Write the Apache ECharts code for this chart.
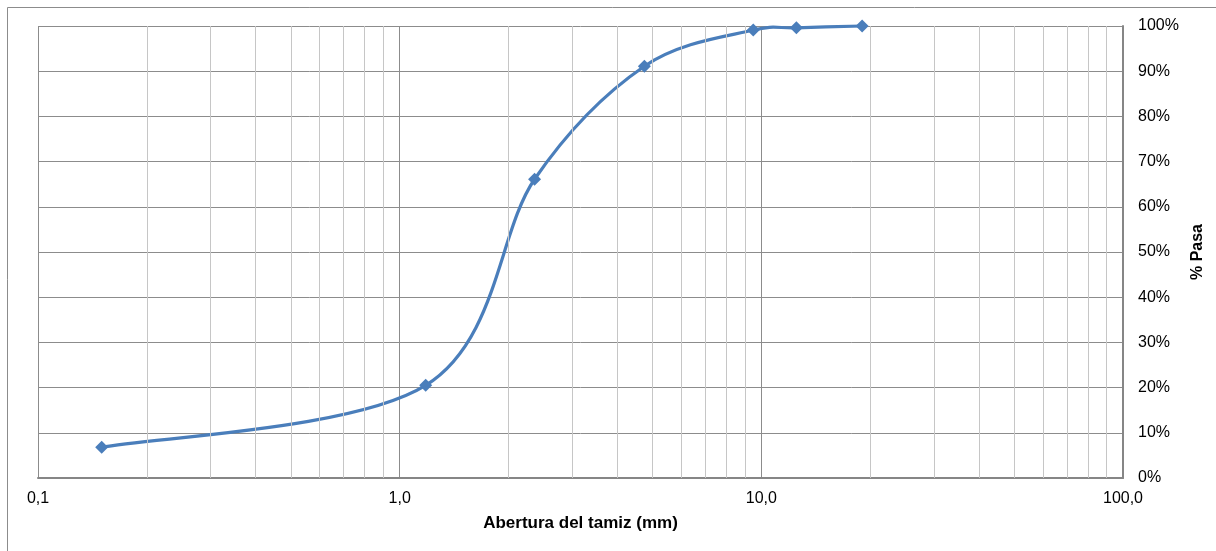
<!DOCTYPE html>
<html>
<head>
<meta charset="utf-8">
<script src="https://cdn.jsdelivr.net/npm/echarts@6/dist/echarts.min.js"></script>
<style>
html,body{margin:0;padding:0;background:#fff;}
#chart{width:1216px;height:551px;}
</style>
</head>
<body>
<div id="chart"></div>
<script>
// Sieve opening (mm) and % passing
const aperturas = [0.15, 1.18, 2.36, 4.75, 9.5, 12.5, 19];
const pasa = [6.8, 20.5, 66.1, 91.1, 99.1, 99.6, 100];
const minorGrid = [0.2,0.3,0.4,0.5,0.6,0.7,0.8,0.9, 2,3,4,5,6,7,8,9, 20,30,40,50,60,70,80,90];
const xTitle = 'Abertura del tamiz (mm)';
const yTitle = '% Pasa';

const chart = echarts.init(document.getElementById('chart'));
const font = 'Liberation Sans, Arial, sans-serif';
const blue = '#4a7ebb';

// Excel-like smoothed segment (Catmull-Rom style, tension 1/6) between point i and i+1
function renderSegment(params, api) {
  const i = params.dataIndex;
  const n = aperturas.length;
  const P = j => api.coord([aperturas[Math.max(0, Math.min(n - 1, j))], pasa[Math.max(0, Math.min(n - 1, j))]]);
  const p0 = P(i - 1), p1 = P(i), p2 = P(i + 1), p3 = P(i + 2);
  const d = (a, b) => Math.hypot(b[0] - a[0], b[1] - a[1]);
  const seg = d(p1, p2);
  let f1 = 1 / 6, f2 = 1 / 6;
  const d02 = d(p0, p2), d13 = d(p1, p3);
  if (d02 * f1 > seg / 2) f1 = seg / 2 / d02;
  if (d13 * f2 > seg / 2) f2 = seg / 2 / d13;
  const c1 = [p1[0] + (p2[0] - p0[0]) * f1, p1[1] + (p2[1] - p0[1]) * f1];
  const c2 = [p2[0] - (p3[0] - p1[0]) * f2, p2[1] - (p3[1] - p1[1]) * f2];
  return {
    type: 'bezierCurve',
    shape: {x1: p1[0], y1: p1[1], x2: p2[0], y2: p2[1], cpx1: c1[0], cpy1: c1[1], cpx2: c2[0], cpy2: c2[1]},
    style: {stroke: blue, lineWidth: 3.2, fill: null, lineCap: 'round'}
  };
}

chart.setOption({
  animation: false,
  backgroundColor: '#fff',
  graphic: [{
    type: 'rect', silent: true, z: -10,
    shape: {x: 7.5, y: 7.5, width: 1230, height: 560},
    style: {fill: 'none', stroke: '#8c8c8c', lineWidth: 1}
  }],
  grid: {left: 38, top: 26, right: 93, bottom: 73},
  xAxis: {
    type: 'log', logBase: 10, min: 0.1, max: 100,
    name: xTitle, nameLocation: 'middle', nameGap: 37,
    nameTextStyle: {fontFamily: font, fontSize: 17, fontWeight: 'bold', color: '#000'},
    axisLine: {show: true, lineStyle: {color: '#868686', width: 2}},
    axisTick: {show: false},
    axisLabel: {fontFamily: font, fontSize: 16, color: '#000', margin: 13,
      formatter: v => v.toFixed(1).replace('.', ',')},
    splitLine: {show: true, lineStyle: {color: '#8c8c8c', width: 1}}
  },
  yAxis: {
    type: 'value', position: 'right', min: 0, max: 100, interval: 10,
    name: yTitle, nameLocation: 'middle', nameGap: 66, nameRotate: 90,
    nameTextStyle: {fontFamily: font, fontSize: 16, fontWeight: 'bold', color: '#000'},
    axisLine: {show: true, lineStyle: {color: '#868686', width: 2}},
    axisTick: {show: false},
    axisLabel: {fontFamily: font, fontSize: 16, color: '#000', margin: 15,
      formatter: v => v + '%'},
    splitLine: {show: true, lineStyle: {color: '#8c8c8c', width: 1}}
  },
  series: [{
    type: 'custom',
    renderItem: renderSegment,
    data: aperturas.slice(0, -1).map((x, i) => [x, pasa[i]]),
    z: 4,
    silent: true,
    markLine: {
      silent: true, symbol: 'none', label: {show: false}, animation: false,
      lineStyle: {color: '#c6c6c6', type: 'solid', width: 1},
      data: minorGrid.map(v => ({xAxis: v}))
    }
  }, {
    type: 'scatter',
    data: aperturas.map((x, i) => [x, pasa[i]]),
    symbol: 'diamond', symbolSize: 13,
    itemStyle: {color: blue, opacity: 1},
    z: 5
  }]
});
</script>
</body>
</html>
